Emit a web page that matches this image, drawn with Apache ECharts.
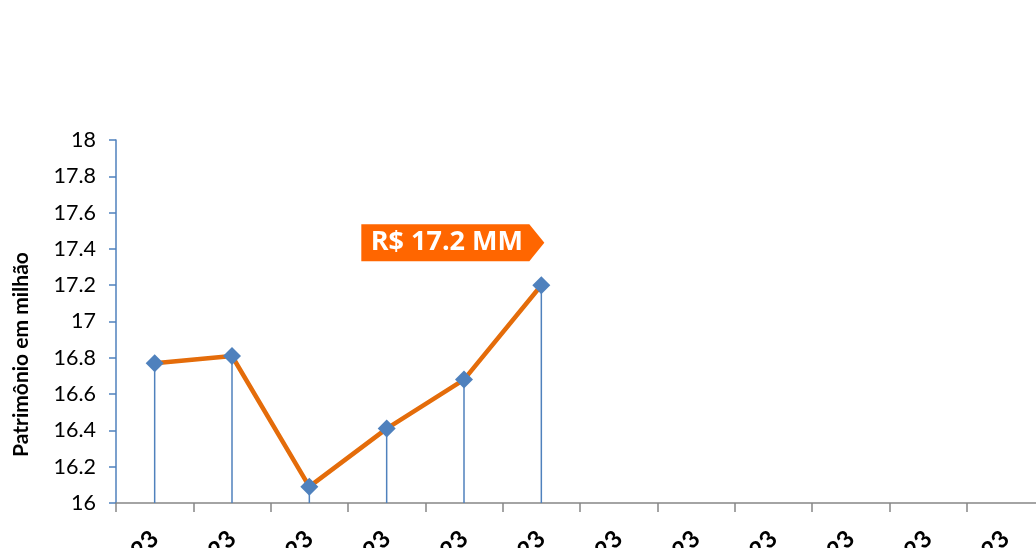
<!DOCTYPE html>
<html><head><meta charset="utf-8">
<script src="https://cdn.jsdelivr.net/npm/echarts@6/dist/echarts.min.js"></script>
<style>html,body{margin:0;padding:0;background:#fff}#c{width:1036px;height:548px}</style>
</head><body><div id="c"></div>
<script>
const categories = ["jan/23","fev/23","mar/23","abr/23","mai/23","jun/23","jul/23","ago/23","set/23","out/23","nov/23","dez/23"];
const patrimonio = [16.77, 16.81, 16.09, 16.41, 16.68, 17.2, null, null, null, null, null, null];
const yTicks = [16, 16.2, 16.4, 16.6, 16.8, 17, 17.2, 17.4, 17.6, 17.8, 18];
const calloutText = "R$ 17.2 MM";

const chart = echarts.init(document.getElementById('c'));
chart.setOption({
  animation: false,
  grid: { left: 116, right: -8, top: 140, bottom: 45, containLabel: false, outerBoundsMode: 'none' },
  xAxis: {
    type: 'category', data: categories, boundaryGap: true,
    axisLine: { lineStyle: { color: '#868686', width: 1.5 } },
    axisTick: { show: true, length: 9, lineStyle: { color: '#868686', width: 1.5 } },
    axisLabel: { rotate: 45, margin: 32, fontFamily: 'Lato', fontWeight: 'bold', fontSize: 24, color: '#000' }
  },
  yAxis: {
    type: 'value', min: yTicks[0], max: yTicks[yTicks.length-1], interval: 0.2,
    name: 'Patrimônio em milhão', nameLocation: 'middle', nameGap: 84, nameRotate: 90,
    nameTextStyle: { fontFamily: 'Lato', fontWeight: 'bold', fontSize: 21, color: '#000', padding: [0, 66, 0, 0] },
    splitLine: { show: false },
    axisLine: { show: true, lineStyle: { color: '#4F81BD', width: 1.5 } },
    axisTick: { show: true, length: 7, lineStyle: { color: '#4F81BD', width: 1.5 } },
    axisLabel: { margin: 20, fontFamily: 'Lato', fontSize: 21.5, color: '#000',
      formatter: v => String(Math.round(v*10)/10) }
  },
  series: [
    {
      type: 'bar', data: patrimonio, barWidth: 1.5, barGap: '-100%',
      itemStyle: { color: '#4F81BD' }, silent: true, z: 1
    },
    {
      type: 'line', data: patrimonio, symbol: 'diamond', symbolSize: 18,
      lineStyle: { color: '#E46C0A', width: 4.5 },
      itemStyle: { color: '#4F81BD', borderWidth: 0 }, z: 3,
      markPoint: {
        symbol: 'path://M0 0 L168 0 L183 18.5 L168 37 L0 37 Z',
        symbolSize: [183, 37], symbolKeepAspect: false,
        symbolOffset: [-88.5, -42.5],
        itemStyle: { color: '#FF6600' },
        label: { show: true, position: 'inside', offset: [-6, 0], formatter: calloutText,
          color: '#fff', fontFamily: 'Open Sans', fontWeight: 'bold', fontSize: 27 },
        data: [{ coord: [5, patrimonio[5]] }]
      }
    }
  ]
});
</script></body></html>
